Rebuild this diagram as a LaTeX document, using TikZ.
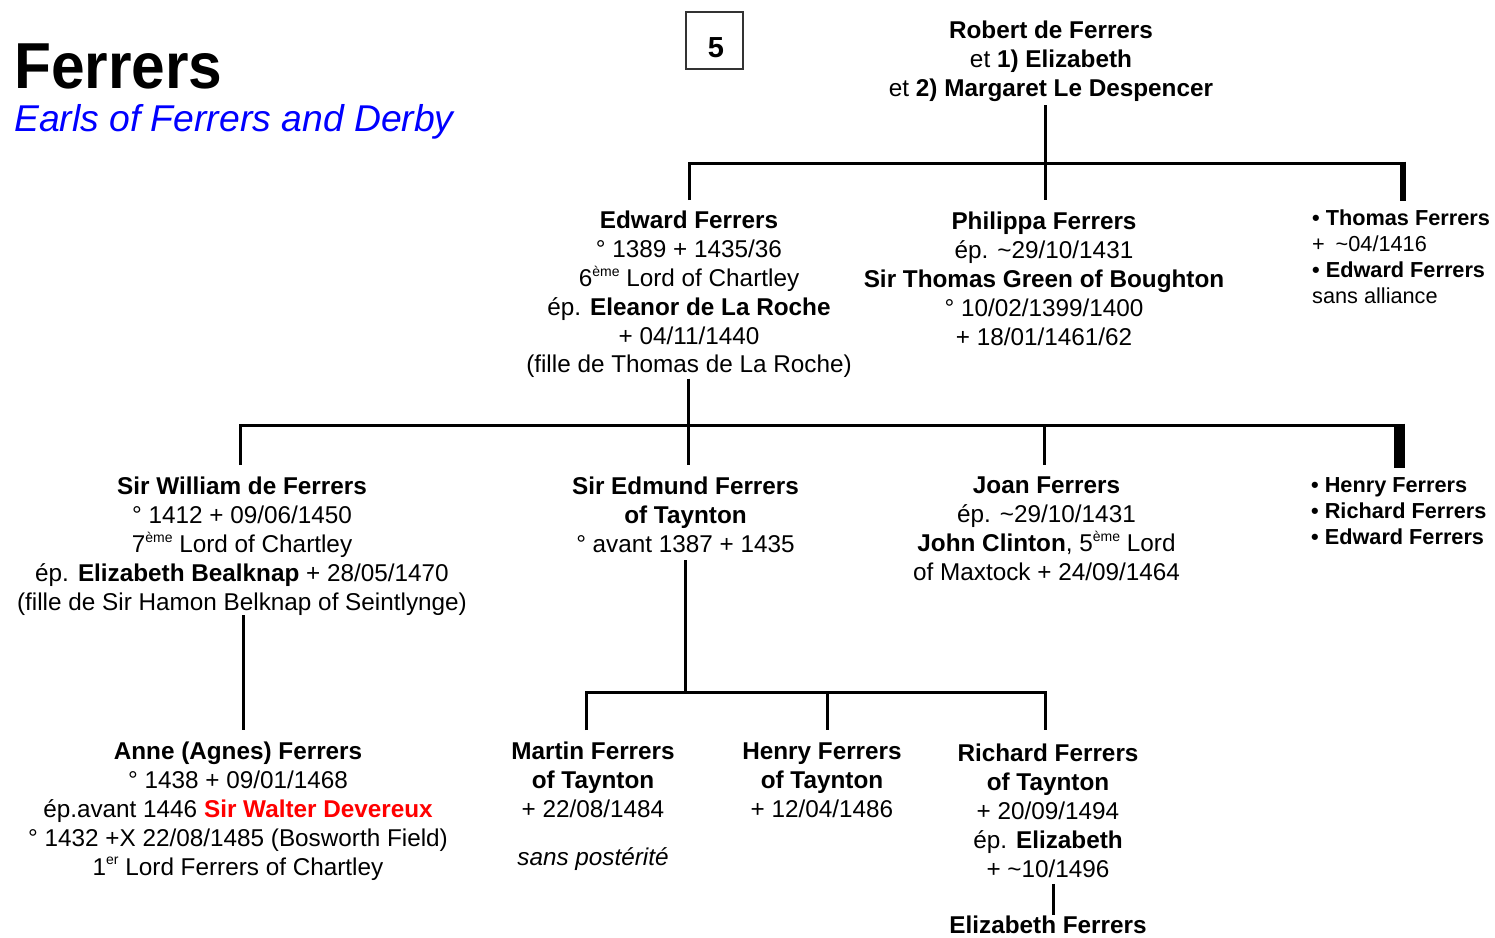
\documentclass[tikz,border=0pt]{standalone}
\usepackage{fontspec}
\setmainfont{Liberation Sans}
\usepackage{graphicx}
\newcommand\supx[1]{\raisebox{0.42em}{\fontsize{14}{14}\selectfont #1}}
\begin{document}
\begin{tikzpicture}[x=1pt,y=-1pt,
  conn/.style={line width=3pt},
  fam/.style={font=\fontsize{24.3}{28.8}\selectfont, align=center, inner sep=0pt, anchor=north},
  lst/.style={font=\fontsize{21.7}{25.7}\selectfont, align=left, inner sep=0pt, anchor=north west}]
\useasboundingbox (0,0) rectangle (1495,937);

% title
\node[anchor=base west, inner sep=0pt, font=\fontsize{65}{70}\selectfont\bfseries] (title) at (14,88) {\scalebox{0.93}[1]{Ferrers}};
\node[anchor=base west, inner sep=0pt, font=\fontsize{37.3}{40}\selectfont\itshape, text=blue] (subtitle) at (14,131) {Earls of Ferrers and Derby};

% page box
\node[draw=black!80, line width=1.3pt, minimum width=57pt, minimum height=57pt, inner sep=0pt] (pgbox) at (714.5,40.5) {};
\node[inner sep=0pt, font=\fontsize{29}{30}\selectfont\bfseries] (pgnum) at (716,47.5) {5};

% people
\node[fam] (robert) at (1051,18.5) {\strut\textbf{Robert de Ferrers}\\ et \textbf{1) Elizabeth}\\ et \textbf{2) Margaret Le Despencer}};

\node[fam] (edward) at (689,208.5) {\strut\textbf{Edward Ferrers}\\ ° 1389 + 1435/36\\ 6\supx{ème} Lord of Chartley\\ ép. \textbf{Eleanor de La Roche}\\ + 04/11/1440\\ (fille de Thomas de La Roche)};

\node[fam] (philippa) at (1044,209.5) {\strut\textbf{Philippa Ferrers}\\ ép. \textasciitilde 29/10/1431\\ \textbf{Sir Thomas Green of Boughton}\\ ° 10/02/1399/1400\\ + 18/01/1461/62};

\node[lst] (thomas) at (1312,207.8) {\strut\textbf{• Thomas Ferrers}\\ +\enspace\textasciitilde 04/1416\\ \textbf{• Edward Ferrers}\\ sans alliance};

\node[fam] (william) at (242,474.5) {\strut\textbf{Sir William de Ferrers}\\ ° 1412 + 09/06/1450\\ 7\supx{ème} Lord of Chartley\\ ép. \textbf{Elizabeth Bealknap} + 28/05/1470\\ (fille de Sir Hamon Belknap of Seintlynge)};

\node[fam] (edmund) at (685.5,474.5) {\strut\textbf{Sir Edmund Ferrers}\\ \textbf{of Taynton}\\ ° avant 1387 + 1435};

\node[fam] (joan) at (1046.5,473.5) {\strut\textbf{Joan Ferrers}\\ ép. \textasciitilde 29/10/1431\\ \textbf{John Clinton}, 5\supx{ème} Lord\\ of Maxtock + 24/09/1464};

\node[lst] (henrylist) at (1311,474.8) {\strut\textbf{• Henry Ferrers}\\ \textbf{• Richard Ferrers}\\ \textbf{• Edward Ferrers}};

\node[fam] (anne) at (238,739.5) {\strut\textbf{Anne (Agnes) Ferrers}\\ ° 1438 + 09/01/1468\\ ép.avant 1446 \textcolor{red}{\textbf{Sir Walter Devereux}}\\ ° 1432 +X 22/08/1485 (Bosworth Field)\\ 1\supx{er} Lord Ferrers of Chartley};

\node[fam] (martin) at (593,739.5) {\strut\textbf{Martin Ferrers}\\ \textbf{of Taynton}\\ + 22/08/1484\\[19pt] \textit{sans postérité}};

\node[fam] (henryf) at (822,739.5) {\strut\textbf{Henry Ferrers}\\ \textbf{of Taynton}\\ + 12/04/1486};

\node[fam] (richard) at (1048,741.5) {\strut\textbf{Richard Ferrers}\\ \textbf{of Taynton}\\ + 20/09/1494\\ ép. \textbf{Elizabeth}\\ + \textasciitilde 10/1496};

\node[fam] (elizabeth) at (1048,913.5) {\strut\textbf{Elizabeth Ferrers}};

% connectors: generation 1
\coordinate (ta) at (689,163);
\coordinate (tb) at (1045,163);
\coordinate (tc) at (1403,163);
\draw[conn, shorten <=3.6pt, shorten >=9.5pt] (robert.south -| tb) -- (tb |- philippa.north);
\draw[conn, shorten <=8.5pt] (ta |- edward.north) -- (ta) -- (tc);
\draw[line width=6pt, shorten >=6.8pt] ([yshift=1.5pt]tc) -- (tc |- thomas.north);

% generation 2
\coordinate (ma) at (688,425);
\coordinate (ml) at (240,425);
\coordinate (mj) at (1044,425);
\coordinate (mr) at (1399.5,425);
\draw[conn, shorten <=0.5pt, shorten >=9.5pt] (edward.south -| ma) -- (ma |- edmund.north);
\draw[conn, shorten <=9.5pt] (ml |- william.north) -- (ml) -- (mr);
\draw[conn, shorten >=8.5pt] (mj) -- (mj |- joan.north);
\draw[line width=11pt, shorten >=6.8pt] ([yshift=1.5pt]mr) -- (mr |- henrylist.north);

% generation 3
\coordinate (wx) at (243,700);
\draw[conn, shorten >=9.5pt] (william.south -| wx) -- (wx |- anne.north);
\coordinate (ba) at (685,692);
\coordinate (bl) at (586,692);
\coordinate (bm) at (827,692);
\coordinate (br) at (1045,692);
\draw[conn, shorten <=7.5pt] (edmund.south -| ba) -- (ba);
\draw[conn, shorten <=9.5pt, shorten >=11.5pt] (bl |- martin.north) -- (bl) -- (br) -- (br |- richard.north);
\draw[conn, shorten >=9.5pt] (bm) -- (bm |- henryf.north);

% generation 4
\coordinate (rx) at (1053,900);
\draw[conn, shorten <=6.3pt, shorten >=-1pt] (richard.south -| rx) -- (rx |- elizabeth.north);
\end{tikzpicture}
\end{document}
